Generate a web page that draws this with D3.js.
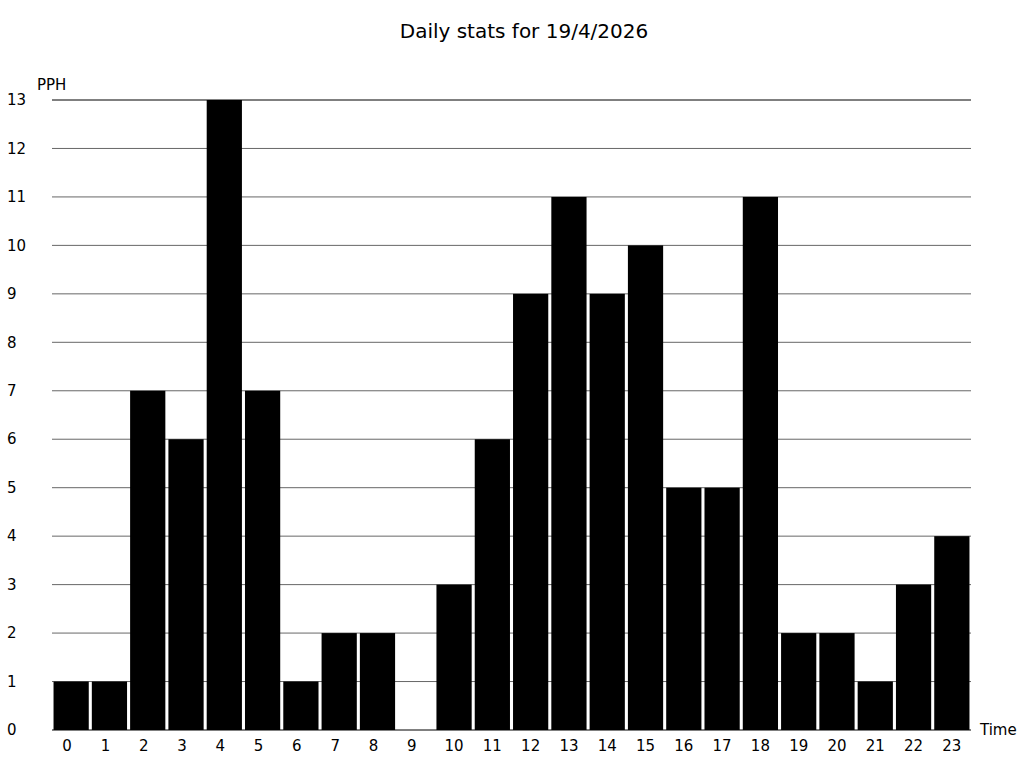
<!DOCTYPE html>
<html><head><meta charset="utf-8">
<script src="https://cdn.jsdelivr.net/npm/d3@7"></script>
<style>body{margin:0;background:#fff}svg{display:block;font-family:"DejaVu Sans",sans-serif}</style>
</head><body><svg id="c" width="1024" height="768"></svg>
<script>
const hours = ["0","1","2","3","4","5","6","7","8","9","10","11","12","13","14","15","16","17","18","19","20","21","22","23"];
const pph = [1,1,7,6,13,7,1,2,2,0,3,6,9,11,9,10,5,5,11,2,2,1,3,4];
const yTicks = [0,1,2,3,4,5,6,7,8,9,10,11,12,13];
const title = "Daily stats for 19/4/2026";
const yLabel = "PPH", xLabel = "Time";

const svg = d3.select("#c");
const L = 52, R = 971, T = 100, B = 730;
const x = d3.scaleBand().domain(hours).range([L, R]).paddingInner(0.08).paddingOuter(0.04);
const y = d3.scaleLinear().domain([0, 13]).range([B, T]);

svg.append("text").attr("x", 524).attr("y", 38).attr("text-anchor", "middle")
  .attr("font-size", 20).attr("fill", "#000").text(title);

// grid
svg.append("g").selectAll("line").data(yTicks.filter(d => d > 0)).join("line")
  .attr("x1", L).attr("x2", R).attr("y1", d => y(d)).attr("y2", d => y(d))
  .attr("stroke", "#000").attr("stroke-opacity", d => d === 13 ? 1 : 0.6).attr("stroke-width", 1);

// y labels
svg.append("g").selectAll("text").data(yTicks).join("text")
  .attr("x", 7).attr("y", d => y(d)).attr("dy", "0.35em")
  .attr("font-size", 15).attr("fill", "#000").text(d => d);

// bars
svg.append("g").selectAll("rect").data(pph).join("rect")
  .attr("x", (d, i) => x(hours[i])).attr("width", x.bandwidth())
  .attr("y", d => y(d)).attr("height", d => B - y(d)).attr("fill", "#000");

// x axis line
svg.append("line").attr("x1", L).attr("x2", R).attr("y1", B).attr("y2", B).attr("stroke", "#000");

// x labels
svg.append("g").selectAll("text").data(hours).join("text")
  .attr("x", d => x(d) + x.bandwidth() / 2 - (d.length > 1 ? 0 : 4))
  .attr("text-anchor", "middle")
  .attr("y", 751).attr("font-size", 15).attr("fill", "#000").text(d => d);

svg.append("text").attr("x", 37).attr("y", 90).attr("font-size", 15).text(yLabel);
svg.append("text").attr("x", 980).attr("y", 735).attr("font-size", 15).text(xLabel);
</script></body></html>
